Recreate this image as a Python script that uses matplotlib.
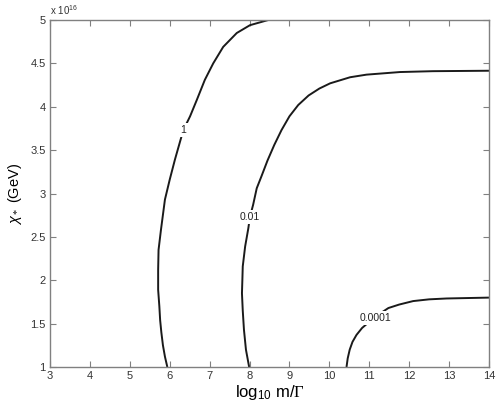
import matplotlib
matplotlib.use("Agg")
import matplotlib.pyplot as plt

plt.rcParams['font.family'] = ['Liberation Sans', 'DejaVu Sans']
plt.rcParams['mathtext.fontset'] = 'custom'
plt.rcParams['mathtext.rm'] = 'Liberation Serif'
plt.rcParams['mathtext.sf'] = 'Liberation Sans'
plt.rcParams['mathtext.it'] = 'Liberation Sans:italic'

# contour lines (y in units of 1e16 GeV)
c1_x = [5.94, 5.88, 5.83, 5.79, 5.76, 5.74, 5.71, 5.71, 5.72, 5.78, 5.88, 6.00, 6.13,
        6.34, 6.51, 6.68, 6.88, 7.09, 7.34, 7.68, 8.01, 8.47]
c1_y = [1.00, 1.12, 1.25, 1.40, 1.54, 1.70, 1.89, 2.12, 2.35, 2.58, 2.93, 3.16, 3.39,
        3.73, 3.89, 4.08, 4.31, 4.50, 4.69, 4.85, 4.94, 5.00]

c2_x = [7.99, 7.91, 7.86, 7.83, 7.81, 7.82, 7.83, 7.89, 7.97, 8.01, 8.09, 8.18, 8.30,
        8.45, 8.62, 8.80, 9.00, 9.22, 9.48, 9.75, 10.02, 10.52, 10.93, 11.77, 12.6, 14.0]
c2_y = [1.00, 1.20, 1.43, 1.65, 1.85, 2.00, 2.16, 2.39, 2.60, 2.73, 2.87, 3.06, 3.20,
        3.38, 3.56, 3.73, 3.89, 4.02, 4.13, 4.21, 4.27, 4.34, 4.37, 4.40, 4.41, 4.415]

c3_x = [10.43, 10.46, 10.51, 10.58, 10.68, 10.82, 11.15, 11.48, 11.75, 12.10, 12.50, 12.94, 14.0]
c3_y = [1.00, 1.10, 1.20, 1.29, 1.37, 1.45, 1.58, 1.68, 1.72, 1.76, 1.78, 1.79, 1.80]

levels = ["1", "0.01", "0.0001"]
label_pos = [(6.33, 3.73), (8.01, 2.73), (11.15, 1.565)]

xticks = list(range(3, 15))
yticks = [1, 1.5, 2, 2.5, 3, 3.5, 4, 4.5, 5]


def main():
    fig = plt.figure(figsize=(4.98, 4.03), dpi=100)
    ax = fig.add_axes([0.1004, 0.0893, 0.8815, 0.8611])

    for xs, ys in [(c1_x, c1_y), (c2_x, c2_y), (c3_x, c3_y)]:
        ax.plot(xs, ys, color='#1a1a1a', linewidth=1.4, zorder=2,
                solid_joinstyle='round', solid_capstyle='butt')

    for lab, (lx, ly) in zip(levels, label_pos):
        ax.text(lx, ly, lab, fontsize=7.5, color='#222222', ha='center', va='center',
                zorder=3, bbox=dict(facecolor='white', edgecolor='none', pad=1.5))

    ax.set_xlim(3, 14)
    ax.set_ylim(1, 5)
    ax.set_xticks(xticks)
    ax.set_yticks(yticks)
    ax.set_xticklabels([str(t) for t in xticks])
    ax.set_yticklabels([f"{t:g}" for t in yticks])
    ax.tick_params(direction='in', top=True, right=True, length=4, width=0.8,
                   color='#808080', labelcolor='#333333', labelsize=8, pad=3)
    for s in ax.spines.values():
        s.set_color('#808080')
        s.set_linewidth(1.0)

    ax.text(0.0, 1.008, r"x 10$^{\mathsf{16}}$", transform=ax.transAxes, fontsize=7,
            color='#333333', ha='left', va='bottom')

    ax.set_xlabel(r"log$_{\mathsf{10}}$ m/$\Gamma$", fontsize=12, labelpad=1)
    ax.set_ylabel(r"$\chi_*$ (GeV)", fontsize=10.5, labelpad=5)

    plt.savefig("out.png", dpi=100)


if __name__ == "__main__":
    main()
